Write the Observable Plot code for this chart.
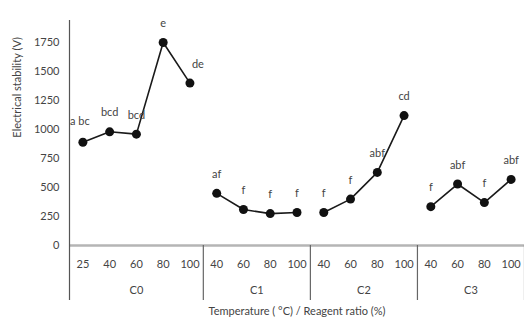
<!DOCTYPE html>
<html><head><meta charset="utf-8">
<script src="https://cdn.jsdelivr.net/npm/d3@7"></script>
<script src="https://cdn.jsdelivr.net/npm/@observablehq/plot@0.6"></script>
<style>body{margin:0;background:#fff}</style>
</head><body><div id="chart"></div>
<script>
const groups = ["C0", "C1", "C2", "C3"];
const c0Levels = [25, 40, 60, 80, 100];
const c0Values = [890, 980, 960, 1750, 1400];
const c0Letters = ["a bc", "bcd", "bcd", "e", "de"];
const c1Levels = [40, 60, 80, 100];
const c1Values = [450, 310, 275, 285];
const c1Letters = ["af", "f", "f", "f"];
const c2Levels = [40, 60, 80, 100];
const c2Values = [285, 400, 630, 1120];
const c2Letters = ["f", "f", "abf", "cd"];
const c3Levels = [40, 60, 80, 100];
const c3Values = [335, 530, 370, 570];
const c3Letters = ["f", "abf", "f", "abf"];
const yTicks = [0, 250, 500, 750, 1000, 1250, 1500, 1750];
const yTitle = "Electrical stability (V)";
const xTitle = "Temperature ( °C) / Reagent ratio (%)";

const levelSets = [c0Levels, c1Levels, c2Levels, c3Levels];
const valueSets = [c0Values, c1Values, c2Values, c3Values];
const letterSets = [c0Letters, c1Letters, c2Letters, c3Letters];

const rows = [];
const groupInfo = [];
let idx = 0;
groups.forEach((g, gi) => {
  const start = idx;
  levelSets[gi].forEach((lv, k) => {
    rows.push({i: idx, group: g, level: String(lv), v: valueSets[gi][k], letter: letterSets[gi][k]});
    idx++;
  });
  groupInfo.push({group: g, center: (start + idx - 1) / 2, end: idx - 0.5});
});
const n = rows.length;
const bottomVal = -474;
const font = "Lato, 'Open Sans', sans-serif";
const isLeftShift = (d) => d.group === "C0" && d.i === 0;
const isRightShift = (d) => d.group === "C0" && d.i === 4;
const isPlain = (d) => !isLeftShift(d) && !isRightShift(d);

const chart = Plot.plot({
  width: 524,
  height: 321,
  marginLeft: 69,
  marginRight: 0,
  marginTop: 13,
  marginBottom: 21,
  style: {fontFamily: font, background: "#fff"},
  x: {domain: [-0.5, n - 0.5], axis: null},
  y: {domain: [bottomVal, 2000], axis: null},
  marks: [
    Plot.ruleY([0], {stroke: "#b5b5b5", strokeWidth: 2.5}),
    Plot.ruleX([-0.5], {y1: bottomVal, y2: 1940, stroke: "#555", strokeWidth: 1.2}),
    Plot.ruleX(groupInfo, {x: "end", y1: bottomVal, y2: 0, stroke: "#666", strokeWidth: 1.2}),
    Plot.axisY(yTicks, {tickSize: 0, tickPadding: 10, fontSize: 11, fill: "#444", label: null, tickFormat: "d"}),
    Plot.text([yTitle], {frameAnchor: "left", dx: -52, y: 930, rotate: -90, fontSize: 11, fill: "#444"}),
    Plot.text(rows, {x: "i", y: 0, text: "level", dy: 19, fontSize: 11, fill: "#444"}),
    Plot.text(groupInfo, {x: "center", y: 0, text: "group", dy: 45, fontSize: 11, fill: "#444"}),
    Plot.text([xTitle], {x: (n - 1) / 2, y: bottomVal, dy: 11, fontSize: 11, fill: "#444"}),
    Plot.line(rows, {x: "i", y: "v", z: "group", stroke: "#1a1a1a", strokeWidth: 1.6}),
    Plot.dot(rows, {x: "i", y: "v", r: 4.5, fill: "#111", stroke: null}),
    Plot.text(rows, {filter: isPlain, x: "i", y: "v", text: "letter", dy: -19, fontSize: 11, fill: "#444"}),
    Plot.text(rows, {filter: isLeftShift, x: "i", y: "v", text: "letter", dy: -21, dx: -3, fontSize: 11, fill: "#444"}),
    Plot.text(rows, {filter: isRightShift, x: "i", y: "v", text: "letter", dy: -19, dx: 8, fontSize: 11, fill: "#444"})
  ]
});
document.getElementById("chart").appendChild(chart);
</script>
</body></html>
